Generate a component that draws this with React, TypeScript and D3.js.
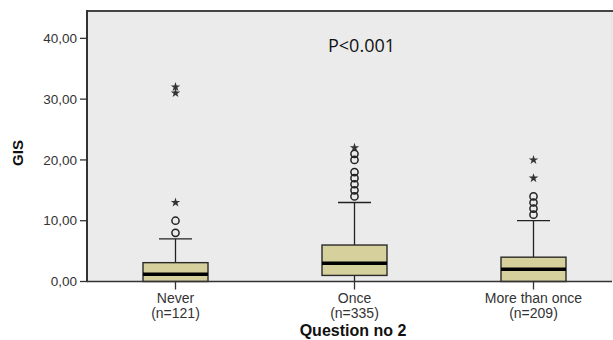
import * as d3 from "d3";

// Categories and box statistics
const categories = ["Never", "Once", "More than once"];
const counts = ["(n=121)", "(n=335)", "(n=209)"];
const q1 = [0, 1, 0];
const median = [1.2, 3, 2];
const q3 = [3.1, 6, 4];
const whiskerLow = [0, 0, 0];
const whiskerHigh = [7, 13, 10];
const outliers = [
  [8, 10],
  [14, 15, 16, 17, 18, 20, 21],
  [11, 12, 13, 14],
];
const extremes = [
  [13, 31, 32],
  [22],
  [17, 20],
];
const yTicks = [0, 10, 20, 30, 40];

const width = 613;
const height = 340;
const plot = { left: 88, top: 11, right: 612, bottom: 281.5 };

export default function App() {
  const x = d3
    .scaleBand<string>()
    .domain(categories)
    .range([86, 623])
    .padding(0);
  const y = d3.scaleLinear().domain([0, 44.5]).range([plot.bottom, plot.top]);
  const boxW = 65;
  const capW = 33;
  const fmt = (v: number) => v.toFixed(2).replace(".", ",");
  const star = d3.symbol().type(d3.symbolStar).size(28)();

  return (
    <svg
      width={width}
      height={height}
      style={{ position: "absolute", left: 0, top: 0, background: "#fff" }}
      fontFamily="'Liberation Sans', Arial, sans-serif"
    >
      <rect
        x={plot.left}
        y={plot.top}
        width={plot.right - plot.left}
        height={plot.bottom - plot.top}
        fill="#ebebeb"
      />
      <line x1={plot.right} x2={plot.right} y1={plot.top} y2={plot.bottom} stroke="#d8d8d8" />
      <line x1={plot.left - 1} x2={width} y1={plot.top} y2={plot.top} stroke="#444" strokeWidth={2} />
      <line x1={plot.left - 1} x2={plot.left - 1} y1={plot.top - 1} y2={plot.bottom} stroke="#333" strokeWidth={2} />

      {/* y axis */}
      {yTicks.map((t) => (
        <g key={t}>
          <line x1={80} x2={plot.left} y1={y(t)} y2={y(t)} stroke="#333" strokeWidth={1.3} />
          <text x={77} y={y(t)} dy="0.35em" textAnchor="end" fontSize={13.5} fill="#333">
            {fmt(t)}
          </text>
        </g>
      ))}
      <text
        transform={`translate(23,153) rotate(-90)`}
        textAnchor="middle"
        fontSize={15}
        fontWeight="bold"
        fill="#111"
      >
        GIS
      </text>

      {/* boxes */}
      {categories.map((c, i) => {
        const cx = x(c)! + x.bandwidth() / 2;
        return (
          <g key={c}>
            <line x1={cx} x2={cx} y1={y(q3[i])} y2={y(whiskerHigh[i])} stroke="#222" strokeWidth={1.3} />
            <line x1={cx - capW / 2} x2={cx + capW / 2} y1={y(whiskerHigh[i])} y2={y(whiskerHigh[i])} stroke="#222" strokeWidth={1.3} />
            <line x1={cx} x2={cx} y1={y(q1[i])} y2={y(whiskerLow[i])} stroke="#222" strokeWidth={1.3} />
            <rect
              x={cx - boxW / 2}
              y={y(q3[i])}
              width={boxW}
              height={y(q1[i]) - y(q3[i])}
              fill="#d6d09c"
              stroke="#2a2a2a"
              strokeWidth={1.4}
            />
            <line x1={cx - boxW / 2} x2={cx + boxW / 2} y1={y(median[i])} y2={y(median[i])} stroke="#000" strokeWidth={3.5} />
            {outliers[i].map((v) => (
              <circle key={v} cx={cx} cy={y(v)} r={3.6} fill="none" stroke="#222" strokeWidth={1.5} />
            ))}
            {extremes[i].map((v) => (
              <path key={v} d={star!} transform={`translate(${cx},${y(v)})`} fill="#333" />
            ))}
            <line x1={cx} x2={cx} y1={plot.bottom} y2={plot.bottom + 8} stroke="#333" strokeWidth={1.3} />
            <text x={cx} y={303} textAnchor="middle" fontSize={14} fill="#333">
              {c}
            </text>
            <text x={cx} y={318} textAnchor="middle" fontSize={14} fill="#333">
              {counts[i]}
            </text>
          </g>
        );
      })}

      {/* x axis line */}
      <line x1={plot.left - 1} x2={plot.right} y1={plot.bottom} y2={plot.bottom} stroke="#333" strokeWidth={1.5} />

      <text x={353} y={336} textAnchor="middle" fontSize={16} fontWeight="bold" fill="#111">
        Question no 2
      </text>
      <text x={328} y={51.5} fontSize={18} fontFamily="'Open Sans', sans-serif" fill="#111">
        P&lt;0.001
      </text>
    </svg>
  );
}
